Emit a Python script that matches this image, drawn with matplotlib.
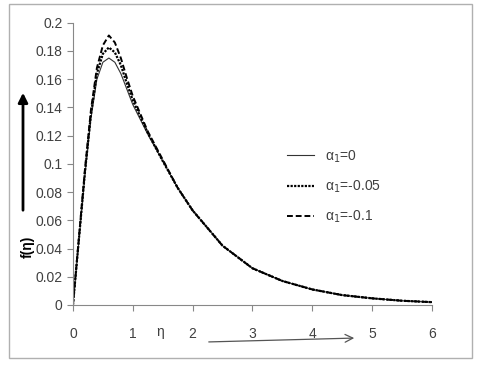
import numpy as np
import matplotlib.pyplot as plt
from matplotlib.patches import Rectangle

plt.rcParams['font.family'] = ['Liberation Sans', 'DejaVu Sans']

# values
eta = [0, 0.1, 0.2, 0.3, 0.4, 0.5, 0.6, 0.7, 0.8, 0.9, 1.0, 1.25, 1.5,
       1.75, 2.0, 2.5, 3.0, 3.5, 4.0, 4.5, 5.0, 5.5, 6.0]
f_a0 = [0, 0.046, 0.092, 0.132, 0.160, 0.172, 0.175, 0.172, 0.164, 0.153,
        0.142, 0.121, 0.102, 0.083, 0.067, 0.042, 0.026, 0.017, 0.011,
        0.007, 0.0047, 0.003, 0.002]
f_a005 = [0, 0.047, 0.094, 0.135, 0.164, 0.178, 0.1825, 0.179, 0.170, 0.157,
          0.145, 0.122, 0.102, 0.083, 0.067, 0.042, 0.026, 0.017, 0.011,
          0.007, 0.0047, 0.003, 0.002]
f_a01 = [0, 0.048, 0.096, 0.138, 0.168, 0.184, 0.191, 0.186, 0.175, 0.161,
         0.148, 0.123, 0.103, 0.083, 0.067, 0.042, 0.026, 0.017, 0.011,
         0.007, 0.0047, 0.003, 0.002]
labels = [r'α$_1$=0', r'α$_1$=-0.05', r'α$_1$=-0.1']

fig = plt.figure(figsize=(4.8, 3.67), dpi=100)
fig.patch.set_facecolor('white')
fig.add_artist(Rectangle((9 / 480, 1 - 358 / 367), 463 / 480, 354 / 367,
                         transform=fig.transFigure, fill=False,
                         edgecolor='#b0b0b0', lw=1))

ax = fig.add_axes([0.152, 0.169, 0.748, 0.769])
ax.plot(eta, f_a0, color='#333333', lw=0.8, label=labels[0])
ax.plot(eta, f_a005, color='black', lw=1.6, linestyle=(0, (1, 0.6)), label=labels[1])
ax.plot(eta, f_a01, color='black', lw=1.4, linestyle=(0, (3, 1.5)), label=labels[2])

ax.set_xlim(0, 6)
ax.set_ylim(0, 0.2)
ax.set_xticks(range(0, 7))
ax.set_yticks(np.arange(0, 0.201, 0.02))
ax.set_yticklabels(['0', '0.02', '0.04', '0.06', '0.08', '0.1', '0.12',
                    '0.14', '0.16', '0.18', '0.2'])
for s in ['top', 'right']:
    ax.spines[s].set_visible(False)
for s in ['left', 'bottom']:
    ax.spines[s].set_color('#888888')
ax.tick_params(colors='#888888', labelcolor='#404040', labelsize=10, length=4)
ax.tick_params(axis='x', pad=12)

leg = ax.legend(loc='upper left', bbox_to_anchor=(0.56, 0.6), frameon=False,
                handlelength=2.0, labelspacing=1.0, fontsize=10)
for t in leg.get_texts():
    t.set_color('#404040')

# axis labels with arrows
fig.text(28 / 480, 1 - 247 / 367, 'f(η)', rotation=90, ha='center', va='center',
         fontsize=10, fontweight='bold')
fig.add_artist(plt.Annotation('', xy=(23 / 480, 1 - 90 / 367), xytext=(23 / 480, 1 - 213 / 367),
                              xycoords='figure fraction', textcoords='figure fraction',
                              arrowprops=dict(arrowstyle='-|>', color='black', lw=2,
                                              mutation_scale=14)))
fig.text(160 / 480, 1 - 332 / 367, 'η', ha='center', va='center', fontsize=10,
         color='#404040')
fig.add_artist(plt.Annotation('', xy=(357 / 480, 1 - 338 / 367), xytext=(206 / 480, 1 - 342 / 367),
                              xycoords='figure fraction', textcoords='figure fraction',
                              arrowprops=dict(arrowstyle='->', color='#555555', lw=0.9,
                                              mutation_scale=14)))

fig.savefig('out.png', dpi=100)
